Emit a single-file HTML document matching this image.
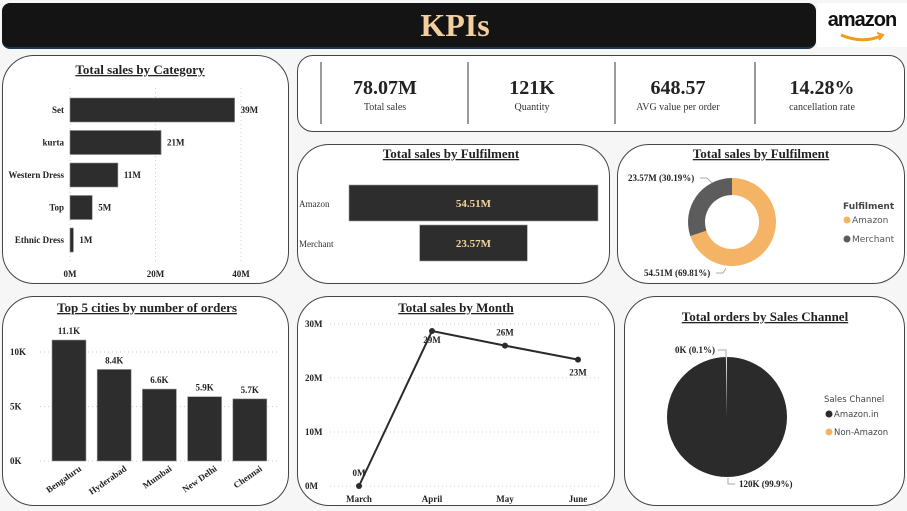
<!DOCTYPE html>
<html><head><meta charset="utf-8">
<style>
body{margin:0;width:907px;height:511px;background:#f6f6f6;font-family:"Liberation Serif",serif;position:relative;overflow:hidden}
.panel{position:absolute;background:#fff;border:1px solid #444;border-radius:32px;box-sizing:border-box}
svg{position:absolute;left:0;top:0}
.t{font-family:"Liberation Serif",serif;font-weight:bold;fill:#222}
.s{font-family:"DejaVu Sans","Liberation Sans",sans-serif}
</style></head><body>
<div style="position:absolute;left:2px;top:3px;width:814px;height:44px;background:#141414;border-radius:8px;border-bottom:2px solid #1f3550"></div>
<div style="position:absolute;left:380px;top:4px;width:150px;text-align:center;color:#f3cf9e;font:bold 32px 'Liberation Serif',serif;line-height:42px">KPIs</div>
<div style="position:absolute;left:817px;top:3px;width:90px;height:44px;background:#fff">
<div style="font:bold 20px 'Liberation Sans',sans-serif;color:#111;text-align:center;margin-top:6px;letter-spacing:-1px">amazon</div>
<svg width="90" height="44" style="position:absolute;left:0;top:0"><path d="M24 32 Q45 41 64 33" stroke="#f39b1e" stroke-width="3" fill="none"/><path d="M60 30 L66 32 L62 37" stroke="#f39b1e" stroke-width="2" fill="none"/></svg>
</div>

<div class="panel" style="left:2px;top:55px;width:287px;height:229px"></div>
<div class="panel" style="left:297px;top:55px;width:608px;height:77px;border-radius:16px"></div>
<div class="panel" style="left:297px;top:144px;width:313px;height:140px"></div>
<div class="panel" style="left:617px;top:144px;width:288px;height:140px"></div>
<div class="panel" style="left:2px;top:296px;width:287px;height:210px"></div>
<div class="panel" style="left:297px;top:296px;width:318px;height:210px"></div>
<div class="panel" style="left:624px;top:296px;width:281px;height:210px"></div>

<svg id="main" width="907" height="511"></svg>
<script>
const catNames=["Set","kurta","Western Dress","Top","Ethnic Dress"];
const catValues=[38.5,21.3,11.2,5.2,0.8];
const catLabels=["39M","21M","11M","5M","1M"];
const catTicks=[0,20,40];
const kpiValues=["78.07M","121K","648.57","14.28%"];
const kpiNames=["Total sales","Quantity","AVG value per order","cancellation rate"];
const fulNames=["Amazon","Merchant"];
const fulValues=[54.51,23.57];
const fulLabels=["54.51M","23.57M"];
const cityNames=["Bengaluru","Hyderabad","Mumbai","New Delhi","Chennai"];
const cityValues=[11.1,8.4,6.6,5.9,5.7];
const cityLabels=["11.1K","8.4K","6.6K","5.9K","5.7K"];
const cityTicks=[0,5,10];
const months=["March","April","May","June"];
const monthValues=[0,28.7,26,23.4];
const monthLabels=["0M","29M","26M","23M"];
const monthTicks=[0,10,20,30];
const channelNames=["Amazon.in","Non-Amazon"];
const channelValues=[99.9,0.1];

const svg=document.getElementById('main');
const NS='http://www.w3.org/2000/svg';
function el(tag,attrs,text){const e=document.createElementNS(NS,tag);for(const k in attrs)e.setAttribute(k,attrs[k]);if(text!==undefined)e.textContent=text;svg.appendChild(e);return e;}

function title(x,y,txt,name){const t=el('text',{x:x,y:y,'text-anchor':'middle','class':'t','font-size':13,'text-decoration':'underline'},txt);

}
title(140,74,"Total sales by Category","category-title");
title(451,158,"Total sales by Fulfilment","fulfilment-bar-title");
title(761,158,"Total sales by Fulfilment","fulfilment-donut-title");
title(147,312,"Top 5 cities by number of orders","cities-title");
title(456,312,"Total sales by Month","month-title");
title(765,321,"Total orders by Sales Channel","channel-title");

const kx=[385,532,678,822];
[321,468,615,755].forEach(x=>el('line',{x1:x,y1:62,x2:x,y2:124,stroke:'#333','stroke-width':1}));
kpiValues.forEach((v,i)=>{
 const a=el('text',{x:kx[i],y:94,'text-anchor':'middle','class':'t','font-size':20},v);
 
 
 const b=el('text',{x:kx[i],y:110,'text-anchor':'middle','font-size':10,fill:'#333','font-family':'Liberation Serif'},kpiNames[i]);
 
 
});

const cx=v=>70+v*(171/40);
const cy0=98, cstep=32.5, ch=24;
catTicks.forEach(t=>{el('line',{x1:cx(t),y1:88,x2:cx(t),y2:262,stroke:'#ccc','stroke-dasharray':'1,3'});
 const l=el('text',{x:cx(t),y:277,'text-anchor':'middle','class':'t','font-size':9,'font-weight':'normal'},t+'M');
 
 });
catNames.forEach((n,i)=>{const y=cy0+i*cstep;
 const r=el('rect',{x:cx(0),y:y,width:cx(catValues[i])-cx(0),height:ch,fill:'#2d2d2d',stroke:'#888','stroke-width':0.6});
 
 
 el('text',{x:64,y:y+ch/2+3,'text-anchor':'end','class':'t','font-size':9},n);
 el('text',{x:cx(catValues[i])+6,y:y+ch/2+3,'class':'t','font-size':9},catLabels[i]);
});

const fmax=54.51, fw=249, fcx=473.5;
fulNames.forEach((n,i)=>{const w=fulValues[i]/fmax*fw;const y=i?225:185;
 const r=el('rect',{x:fcx-w/2,y:y,width:w,height:36,fill:'#2d2d2d',stroke:'#999','stroke-width':0.6});
 
 
 el('text',{x:fcx,y:y+22,'text-anchor':'middle','font-size':11,'font-weight':'bold',fill:'#f3d39e','font-family':'Liberation Serif'},fulLabels[i]);
 el('text',{x:299,y:y+22,'font-size':9,fill:'#333','font-family':'Liberation Serif'},n);
});

function arc(cx_,cy_,r,r2,a0,a1){const p=(r,a)=>[cx_+r*Math.sin(a),cy_-r*Math.cos(a)];const large=a1-a0>Math.PI?1:0;
 const [x0,y0]=p(r,a0),[x1,y1]=p(r,a1);
 if(r2>0){const [x2,y2]=p(r2,a1),[x3,y3]=p(r2,a0);return `M${x0} ${y0}A${r} ${r} 0 ${large} 1 ${x1} ${y1}L${x2} ${y2}A${r2} ${r2} 0 ${large} 0 ${x3} ${y3}Z`;}
 return `M${cx_} ${cy_}L${x0} ${y0}A${r} ${r} 0 ${large} 1 ${x1} ${y1}Z`;}
const dcol=['#f5b465','#5c5c5c'];
const ftot=fulValues.reduce((a,b)=>a+b,0);let a=0;
fulValues.forEach((v,i)=>{const a1=a+v/ftot*2*Math.PI;
 const p=el('path',{d:arc(732,222,44,27,a,a1),fill:dcol[i]});
 
 
 a=a1;});
el('text',{x:628,y:181,'class':'t','font-size':9},fulLabels[1]+' ('+(fulValues[1]/ftot*100).toFixed(2)+'%)');
el('path',{d:'M700 178 H707 L712 183',stroke:'#aaa',fill:'none'});
el('text',{x:644,y:276,'class':'t','font-size':9},fulLabels[0]+' ('+(fulValues[0]/ftot*100).toFixed(2)+'%)');
el('path',{d:'M716 273 H723 L726 268',stroke:'#aaa',fill:'none'});
el('text',{x:843,y:209,'class':'s','font-size':9,'font-weight':'bold',fill:'#444'},'Fulfilment');
fulNames.forEach((n,i)=>{el('circle',{cx:847,cy:220+i*19,r:3.5,fill:dcol[i]});
 el('text',{x:852,y:223+i*19,'class':'s','font-size':9,fill:'#555'},n);});

const yc=v=>461-v*(109/10);
cityTicks.forEach(t=>{el('line',{x1:40,y1:yc(t),x2:278,y2:yc(t),stroke:'#ccc','stroke-dasharray':'1,3'});
 el('text',{x:10,y:yc(t)+3,'class':'t','font-size':9,'font-weight':'normal'},t+'K');});
cityNames.forEach((n,i)=>{const x=52+i*45.2;
 const r=el('rect',{x:x,y:yc(cityValues[i]),width:34,height:yc(0)-yc(cityValues[i]),fill:'#2d2d2d',stroke:'#999','stroke-width':0.6});
 
 
 el('text',{x:x+17,y:yc(cityValues[i])-6,'text-anchor':'middle','class':'t','font-size':9},cityLabels[i]);
 el('text',{x:x+30,y:470,'text-anchor':'end','class':'t','font-size':9,'font-weight':'normal',transform:`rotate(-35 ${x+30} 470)`},n);
});

const mx=i=>359+i*73, my=v=>486-v*(162/30);
monthTicks.forEach(t=>{el('line',{x1:330,y1:my(t),x2:600,y2:my(t),stroke:'#ccc','stroke-dasharray':'1,3'});
 el('text',{x:305,y:my(t)+3,'class':'t','font-size':9,'font-weight':'normal'},t+'M');});
const ml=el('polyline',{points:monthValues.map((v,i)=>mx(i)+','+my(v)).join(' '),fill:'none',stroke:'#2b2b2b','stroke-width':2});


const loff=[-10,12,-10,16];
monthValues.forEach((v,i)=>{const c=el('circle',{cx:mx(i),cy:my(v),r:3,fill:'#2b2b2b'});
 
 
 el('text',{x:mx(i),y:my(v)+loff[i],'text-anchor':'middle','class':'t','font-size':9},monthLabels[i]);
 el('text',{x:mx(i),y:502,'text-anchor':'middle','class':'t','font-size':9},months[i]);});

const pcol=['#2b2b2b','#f5b465'];const ptot=channelValues.reduce((a,b)=>a+b,0);
const pc=el('circle',{cx:727,cy:417,r:60,fill:pcol[0]});


const ps=el('path',{d:arc(727,417,60,0,-channelValues[1]/ptot*2*Math.PI*3,0),fill:'#ddd'});


el('text',{x:675,y:353,'class':'t','font-size':9},'0K ('+channelValues[1]+'%)');
el('path',{d:'M718 350 H726 V357',stroke:'#aaa',fill:'none'});
el('text',{x:739,y:487,'class':'t','font-size':9},'120K ('+channelValues[0]+'%)');
el('path',{d:'M728 478 V484 H735',stroke:'#aaa',fill:'none'});
el('text',{x:824,y:402,'class':'s','font-size':8.5,fill:'#444'},'Sales Channel');
channelNames.forEach((n,i)=>{el('circle',{cx:829,cy:414+i*18,r:3.5,fill:pcol[i]});
 el('text',{x:834,y:417+i*18,'class':'s','font-size':8.5,fill:'#444'},n);});
</script>
</body></html>
